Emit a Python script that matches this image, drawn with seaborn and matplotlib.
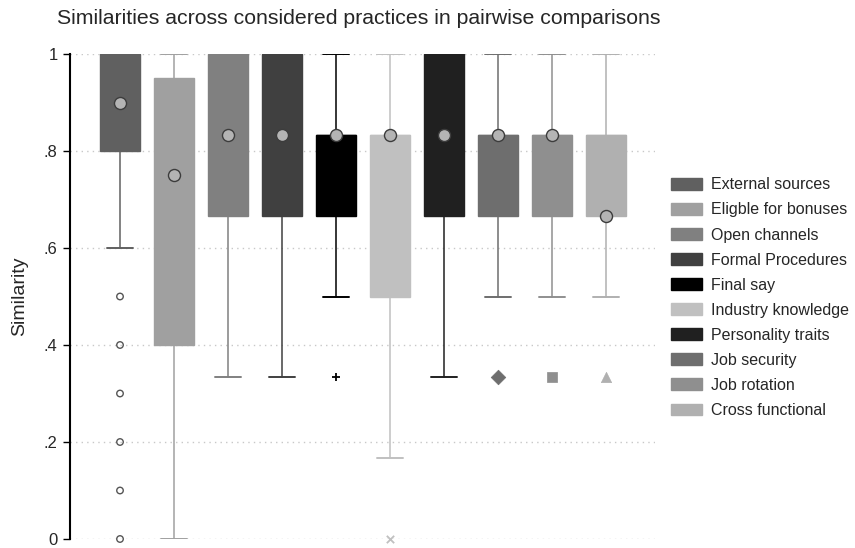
import matplotlib
matplotlib.use("Agg")
import matplotlib.pyplot as plt
import seaborn as sns
import pandas as pd
from matplotlib.patches import Patch

# Summary statistics per practice (similarity scores in [0, 1])
practices = ["External sources", "Eligble for bonuses", "Open channels",
             "Formal Procedures", "Final say", "Industry knowledge",
             "Personality traits", "Job security", "Job rotation",
             "Cross functional"]
colors = ["#606060", "#a0a0a0", "#808080", "#404040", "#000000",
          "#c0c0c0", "#202020", "#6e6e6e", "#8f8f8f", "#b0b0b0"]
q1 = [0.8, 0.4, 2/3, 2/3, 2/3, 0.5, 2/3, 2/3, 2/3, 2/3]
q3 = [1.0, 0.95, 1.0, 1.0, 5/6, 5/6, 1.0, 5/6, 5/6, 5/6]
medians = [1.0, 0.8, 5/6, 5/6, 5/6, 5/6, 5/6, 5/6, 5/6, 5/6]
whisker_low = [0.6, 0.0, 1/3, 1/3, 0.5, 1/6, 1/3, 0.5, 0.5, 0.5]
whisker_high = [1.0] * 10
means = [0.9, 0.75, 5/6, 5/6, 5/6, 5/6, 5/6, 5/6, 5/6, 2/3]
outliers = [[0.5, 0.4, 0.3, 0.2, 0.1, 0.0], [], [], [], [1/3], [0.0],
            [], [1/3], [1/3], [1/3]]
outlier_markers = ["o", "o", "o", "o", "+", "x", "o", "D", "s", "^"]
tick_values = [0, 0.2, 0.4, 0.6, 0.8, 1.0]
tick_labels = ["0", ".2", ".4", ".6", ".8", "1"]

sns.set_style("white")
plt.rcParams["font.family"] = ["Liberation Sans", "DejaVu Sans"]

fig = plt.figure(figsize=(8.55, 5.48), dpi=100)
ax = fig.add_axes([70 / 855, 9 / 548, 585 / 855, 485 / 548])

positions = list(range(1, len(practices) + 1))

# Boxes and whiskers, each drawn in its own shade of grey
for i, pos in enumerate(positions):
    stats = [dict(med=medians[i], q1=q1[i], q3=q3[i],
                  whislo=whisker_low[i], whishi=whisker_high[i], fliers=[])]
    c = colors[i]
    ax.bxp(stats, positions=[pos], widths=0.74, patch_artist=True,
           showfliers=False,
           boxprops=dict(facecolor=c, edgecolor=c, linewidth=1),
           medianprops=dict(color=c, linewidth=1),
           whiskerprops=dict(color=c, linewidth=1.1),
           capprops=dict(color=c, linewidth=1.4),
           capwidths=0.48, zorder=2)

# Outside values
for i, pos in enumerate(positions):
    if not outliers[i]:
        continue
    df = pd.DataFrame({"x": [pos] * len(outliers[i]), "y": outliers[i]})
    m = outlier_markers[i]
    c = colors[i]
    if m == "o":
        sns.scatterplot(data=df, x="x", y="y", ax=ax, marker="o", s=22,
                        facecolor="none", edgecolor="#555555", linewidth=1,
                        zorder=3, clip_on=False)
    elif m in ("+", "x"):
        sns.scatterplot(data=df, x="x", y="y", ax=ax, marker=m,
                        s=40 if m == "+" else 28,
                        color=c, linewidth=1.3, zorder=3, clip_on=False)
    else:
        size = {"D": 55, "s": 45, "^": 55}[m]
        sns.scatterplot(data=df, x="x", y="y", ax=ax, marker=m, s=size,
                        color=c, edgecolor=c, linewidth=0.5, zorder=3,
                        clip_on=False)

# Means
mean_df = pd.DataFrame({"x": positions, "y": means})
sns.scatterplot(data=mean_df, x="x", y="y", ax=ax, marker="o", s=75,
                facecolor="#b4b4b4", edgecolor="#3c3c3c", linewidth=1,
                zorder=4, clip_on=False)

ax.set_xlim(0.074, 10.907)
ax.set_ylim(0, 1)
ax.set_xticks([])
ax.set_yticks(tick_values)
ax.set_yticklabels(tick_labels, fontsize=12)
ax.tick_params(axis="y", length=5, width=1, color="black", pad=4, left=True)
ax.set_xlabel("")
ax.set_ylabel("")
ax.yaxis.grid(True, linestyle=(0, (1, 3)), color="#c8c8c8", linewidth=1)
ax.set_axisbelow(True)
for side in ("top", "right", "bottom"):
    ax.spines[side].set_visible(False)
ax.spines["left"].set_color("black")
ax.spines["left"].set_linewidth(1.5)

fig.text(57 / 855, 1 - 18 / 548,
         "Similarities across considered practices in pairwise comparisons",
         fontsize=15.3, va="center", ha="left")
fig.text(20 / 855, 1 - 296 / 548, "Similarity", fontsize=14,
         rotation=90, va="center", ha="center")

handles = [Patch(facecolor=c, edgecolor=c, label=p)
           for p, c in zip(practices, colors)]
fig.legend(handles=handles, loc="upper left",
           bbox_to_anchor=(665 / 855, 1 - 171 / 548), frameon=False,
           fontsize=11.5, handlelength=1.9, handleheight=0.75,
           handletextpad=0.6, labelspacing=0.63, borderaxespad=0)

fig.savefig("out.png", dpi=100)
